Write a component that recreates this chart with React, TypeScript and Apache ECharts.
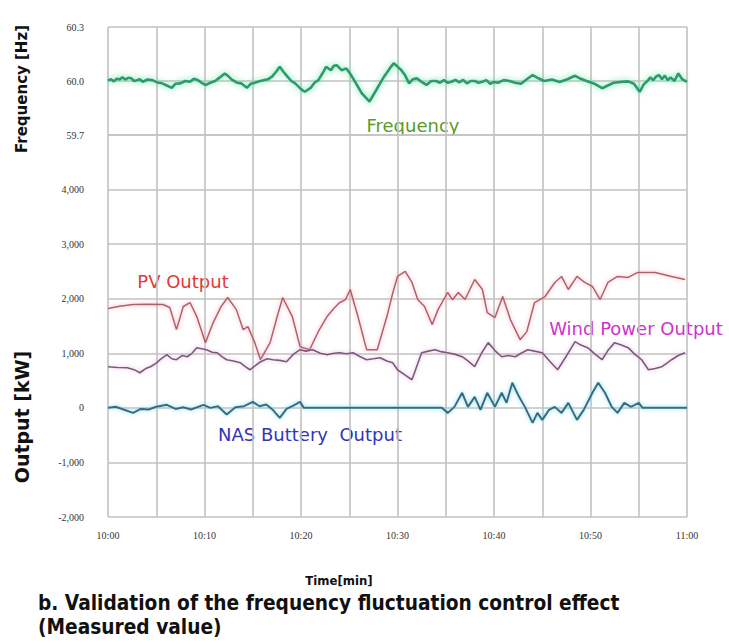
import React, { useEffect, useRef } from "react";
import * as echarts from "echarts";

// Time axis (minutes after 10:00)
const xTickLabels = ["10:00", "10:10", "10:20", "10:30", "10:40", "10:50", "11:00"];

// Frequency [Hz]
const freqTime = [0, 0.3, 0.6, 0.9, 1.2, 1.5, 1.8, 2.1, 2.4, 2.7, 3.0, 3.3, 3.6, 4.1, 4.6, 5.1, 5.6, 6.1, 6.6, 7.0, 7.5, 8.0, 8.5, 8.9, 9.3, 9.7, 10.1, 10.6, 11.1, 11.6, 12.1, 12.4, 12.8, 13.4, 13.8, 14.4, 14.8, 15.2, 15.7, 16.2, 16.6, 17.0, 17.4, 17.8, 18.2, 18.6, 19.0, 19.4, 20.0, 20.4, 21.0, 21.4, 21.8, 22.2, 22.6, 23.1, 23.4, 23.7, 24.2, 24.7, 25.1, 25.5, 26.3, 27.1, 27.8, 28.6, 29.2, 29.6, 30.0, 30.4, 30.8, 31.2, 31.6, 32.0, 32.5, 33.0, 33.5, 34.0, 34.4, 34.8, 35.2, 35.6, 36.0, 36.4, 36.8, 37.2, 37.6, 38.0, 38.4, 38.8, 39.2, 39.6, 40.0, 40.4, 41.0, 41.6, 42.2, 42.8, 43.4, 44.0, 44.6, 45.2, 46.0, 46.8, 47.6, 48.4, 49.0, 49.6, 50.4, 51.2, 51.8, 52.4, 53.2, 53.9, 54.5, 55.1, 55.5, 55.9, 56.2, 56.5, 56.8, 57.1, 57.4, 57.7, 58.0, 58.3, 58.7, 59.1, 59.5, 60.0];
const freqValues = [60.002, 60.01, 59.998, 60.012, 60.009, 60.02, 60.008, 60.018, 60.015, 60.0, 60.004, 60.01, 59.996, 60.008, 60.005, 59.992, 59.987, 59.975, 59.962, 59.985, 59.987, 60.0, 59.996, 60.012, 60.005, 59.99, 59.978, 59.99, 60.0, 60.02, 60.042, 60.03, 60.009, 59.99, 59.987, 59.962, 59.985, 59.99, 59.998, 60.005, 60.01, 60.024, 60.05, 60.079, 60.05, 60.024, 60.0, 59.987, 59.955, 59.94, 59.962, 59.99, 60.005, 60.04, 60.079, 60.06, 60.085, 60.088, 60.06, 60.07, 60.04, 60.005, 59.932, 59.886, 59.95, 60.024, 60.07, 60.098, 60.08, 60.06, 60.03, 59.987, 60.01, 60.015, 59.995, 59.978, 60.0, 60.0, 59.99, 60.005, 59.99, 59.996, 60.006, 59.992, 60.006, 59.987, 60.0, 60.0, 59.99, 59.996, 60.005, 59.985, 59.995, 59.99, 60.005, 60.0, 59.99, 59.985, 60.01, 60.033, 60.015, 60.0, 60.008, 59.995, 60.01, 60.029, 60.012, 60.0, 59.985, 59.96, 59.975, 59.99, 59.995, 59.998, 59.985, 59.94, 59.98, 60.0, 60.02, 60.005, 60.025, 60.033, 60.01, 60.03, 60.005, 60.02, 60.0, 60.042, 60.01, 59.995];

// PV output [kW]
const pvTime = [0, 1.2, 2.6, 4.2, 5.7, 6.4, 7.1, 7.8, 8.5, 9.2, 10.1, 10.9, 11.7, 12.4, 13.3, 14.0, 14.5, 15.2, 15.8, 16.8, 17.5, 18.1, 19.1, 19.9, 20.9, 21.8, 22.7, 23.4, 24.0, 24.6, 25.1, 25.9, 26.8, 27.9, 28.9, 29.5, 30.0, 30.8, 31.5, 32.1, 32.8, 33.6, 34.2, 35.2, 35.7, 36.3, 37.0, 38.0, 38.8, 39.3, 40.1, 40.9, 41.7, 42.2, 42.7, 43.4, 44.2, 45.3, 46.3, 47.0, 47.7, 48.6, 49.4, 50.2, 51.0, 51.8, 52.8, 53.9, 54.9, 56.7, 58.4, 59.8];
const pvValues = [1820, 1860, 1893, 1900, 1893, 1838, 1434, 1857, 1930, 1673, 1195, 1563, 1850, 2022, 1800, 1434, 1489, 1200, 882, 1195, 1650, 2022, 1673, 1121, 1066, 1400, 1673, 1820, 1930, 1980, 2169, 1673, 1066, 1066, 1673, 2100, 2408, 2500, 2298, 1985, 1857, 1526, 1800, 2114, 1980, 2114, 1985, 2353, 2169, 1746, 1654, 2040, 1618, 1434, 1250, 1397, 1930, 2040, 2298, 2408, 2169, 2408, 2298, 2224, 1985, 2298, 2408, 2390, 2482, 2482, 2408, 2353];

// Wind power output [kW]
const windTime = [0, 1.0, 2.0, 2.7, 3.3, 3.9, 4.4, 5.0, 5.4, 6.1, 6.6, 7.1, 7.7, 8.2, 8.7, 9.2, 10.2, 10.8, 11.3, 11.8, 12.3, 13.0, 13.7, 14.2, 14.7, 15.3, 15.8, 16.5, 17.1, 17.8, 18.5, 19.2, 19.9, 20.5, 21.2, 22.0, 22.7, 23.4, 24.0, 24.7, 25.4, 26.1, 26.8, 27.5, 28.2, 28.9, 29.5, 30.0, 30.8, 31.5, 32.5, 33.2, 33.9, 34.5, 35.2, 36.0, 36.7, 37.3, 38.0, 38.7, 39.4, 40.1, 40.8, 41.5, 42.2, 42.8, 43.5, 44.2, 45.0, 45.8, 46.6, 47.5, 48.4, 49.0, 49.7, 50.5, 51.2, 51.8, 52.5, 53.2, 53.9, 54.6, 55.3, 56.0, 56.7, 57.4, 58.0, 58.4, 59.1, 59.8];
const windValues = [754, 740, 735, 700, 643, 720, 754, 820, 882, 974, 900, 882, 960, 937, 1000, 1103, 1066, 1020, 1011, 940, 882, 860, 827, 760, 698, 780, 845, 900, 882, 870, 845, 980, 1066, 1040, 1066, 1000, 974, 1000, 1011, 990, 1011, 940, 882, 900, 919, 860, 827, 698, 600, 515, 1011, 1040, 1066, 1030, 1011, 980, 937, 860, 754, 1000, 1195, 1050, 937, 960, 937, 1000, 1066, 1040, 1011, 850, 698, 950, 1213, 1150, 1103, 980, 882, 1050, 1195, 1150, 1103, 980, 882, 698, 720, 754, 830, 882, 960, 1011];

// NAS battery output [kW]
const nasTime = [0, 0.8, 1.6, 2.6, 3.4, 4.2, 5.0, 6.1, 7.0, 7.8, 8.6, 9.9, 10.6, 11.4, 12.3, 13.2, 14.1, 15.0, 15.7, 16.4, 17.1, 17.8, 18.5, 19.2, 19.9, 20.3, 25.0, 30.0, 34.6, 35.2, 35.9, 36.7, 37.3, 38.0, 38.6, 39.3, 40.1, 40.8, 41.3, 41.9, 42.6, 43.2, 44.0, 44.5, 45.0, 45.7, 46.3, 47.0, 47.7, 48.6, 49.3, 50.2, 50.8, 51.5, 52.2, 52.8, 53.5, 54.2, 55.0, 55.4, 57.5, 60.0];
const nasValues = [0, 20, -30, -92, -20, -30, 20, 55, -20, 10, -30, 55, 0, 30, -123, 10, 30, 110, 30, 60, -40, -184, -20, 40, 110, 0, 0, 0, 0, -92, 18, 276, 18, 202, -37, 276, 18, 276, 92, 460, 202, 18, -276, -92, -220, -37, 18, -92, 92, -220, -37, 276, 460, 276, 18, -92, 92, 18, 92, 0, 0, 0];

const toPairs = (t: number[], v: number[]) => t.map((x, i) => [x, v[i]]);

export default function App() {
  const ref = useRef<HTMLDivElement>(null);
  useEffect(() => {
    if (!ref.current) return;
    const chart = echarts.init(ref.current, null, { renderer: "svg" });
    const gridColor = "#c2c2c2";
    const tickFont = { fontFamily: "Liberation Serif", fontSize: 10, color: "#333" };
    const xAxisBase = {
      type: "value" as const,
      min: 0,
      max: 60,
      interval: 5,
      axisLine: { show: false },
      axisTick: { show: false },
      splitLine: { show: true, lineStyle: { color: gridColor, width: 1.6 } },
    };
    const labelStyle = (text: string, fill: string) => ({
      text,
      fontFamily: "DejaVu Sans",
      fontSize: 18,
      fill,
      align: "center",
      verticalAlign: "middle",
    });
    chart.setOption({
      animation: false,
      backgroundColor: "#ffffff",
      grid: [
        { left: 108, right: 42, top: 27, height: 108 },
        { left: 108, right: 42, top: 135, height: 382 },
      ],
      xAxis: [
        { ...xAxisBase, gridIndex: 0, axisLabel: { show: false } },
        {
          ...xAxisBase,
          gridIndex: 1,
          axisLabel: {
            ...tickFont,
            margin: 13,
            formatter: (v: number) => (v % 10 === 0 ? xTickLabels[v / 10] : ""),
          },
        },
      ],
      yAxis: [
        {
          type: "value",
          gridIndex: 0,
          min: 59.7,
          max: 60.3,
          interval: 0.3,
          axisLine: { show: false },
          axisTick: { show: false },
          splitLine: { show: true, lineStyle: { color: gridColor, width: 1.6 } },
          axisLabel: { ...tickFont, margin: 24, formatter: (v: number) => v.toFixed(1) },
        },
        {
          type: "value",
          gridIndex: 1,
          min: -2000,
          max: 5000,
          interval: 1000,
          axisLine: { show: false },
          axisTick: { show: false },
          splitLine: { show: true, lineStyle: { color: gridColor, width: 1.6 } },
          axisLabel: {
            ...tickFont,
            margin: 24,
            formatter: (v: number) => (v >= 5000 ? "" : v.toLocaleString("en-US")),
          },
        },
      ],
      series: [
        {
          name: "Frequency",
          type: "line",
          xAxisIndex: 0,
          yAxisIndex: 0,
          data: toPairs(freqTime, freqValues),
          showSymbol: false,
          lineStyle: { color: "#2f9a6a", width: 2.6, shadowColor: "rgba(90,225,160,0.9)", shadowBlur: 6 },
        },
        {
          name: "PV Output",
          type: "line",
          xAxisIndex: 1,
          yAxisIndex: 1,
          data: toPairs(pvTime, pvValues),
          showSymbol: false,
          lineStyle: { color: "#b06068", width: 1.5, shadowColor: "rgba(245,160,175,0.9)", shadowBlur: 4 },
        },
        {
          name: "Wind Power Output",
          type: "line",
          xAxisIndex: 1,
          yAxisIndex: 1,
          data: toPairs(windTime, windValues),
          showSymbol: false,
          lineStyle: { color: "#7a5a78", width: 1.6, shadowColor: "rgba(220,170,220,0.9)", shadowBlur: 4 },
        },
        {
          name: "NAS Battery Output",
          type: "line",
          xAxisIndex: 1,
          yAxisIndex: 1,
          data: toPairs(nasTime, nasValues),
          showSymbol: false,
          lineStyle: { color: "#3a6a80", width: 2, shadowColor: "rgba(110,215,235,0.9)", shadowBlur: 4 },
        },
      ],
      graphic: [
        {
          type: "text",
          x: 22,
          y: 89,
          rotation: Math.PI / 2,
          style: {
            text: "Frequency [Hz]",
            fontFamily: "DejaVu Sans",
            fontWeight: "bold",
            fontSize: 15,
            fill: "#111",
            align: "center",
            verticalAlign: "middle",
          },
        },
        {
          type: "text",
          x: 22,
          y: 417,
          rotation: Math.PI / 2,
          style: {
            text: "Output [kW]",
            fontFamily: "DejaVu Sans",
            fontWeight: "bold",
            fontSize: 19,
            fill: "#111",
            align: "center",
            verticalAlign: "middle",
          },
        },
        { type: "text", x: 413, y: 125, style: labelStyle("Frequency", "#5a9a28") },
        { type: "text", x: 183, y: 281, style: labelStyle("PV Output", "#e03a3a") },
        { type: "text", x: 636, y: 328, style: labelStyle("Wind Power Output", "#cc33cc") },
        { type: "text", x: 310, y: 434, style: labelStyle("NAS Buttery  Output", "#3333bb") },
        {
          type: "text",
          x: 339,
          y: 580,
          style: { text: "Time[min]", fontFamily: "DejaVu Sans Condensed", fontWeight: "bold", fontSize: 13, fill: "#111", align: "center", verticalAlign: "middle" },
        },
        {
          type: "text",
          x: 38,
          y: 603,
          style: {
            text: "b. Validation of the frequency fluctuation control effect",
            fontFamily: "DejaVu Sans Condensed",
            fontWeight: "bold",
            fontSize: 20.7,
            fill: "#111",
            align: "left",
            verticalAlign: "middle",
          },
        },
        {
          type: "text",
          x: 38,
          y: 627,
          style: {
            text: "(Measured value)",
            fontFamily: "DejaVu Sans Condensed",
            fontWeight: "bold",
            fontSize: 20.7,
            fill: "#111",
            align: "left",
            verticalAlign: "middle",
          },
        },
      ],
    });
    return () => chart.dispose();
  }, []);
  return <div ref={ref} style={{ width: 729, height: 644, position: "absolute", left: 0, top: 0 }} />;
}
